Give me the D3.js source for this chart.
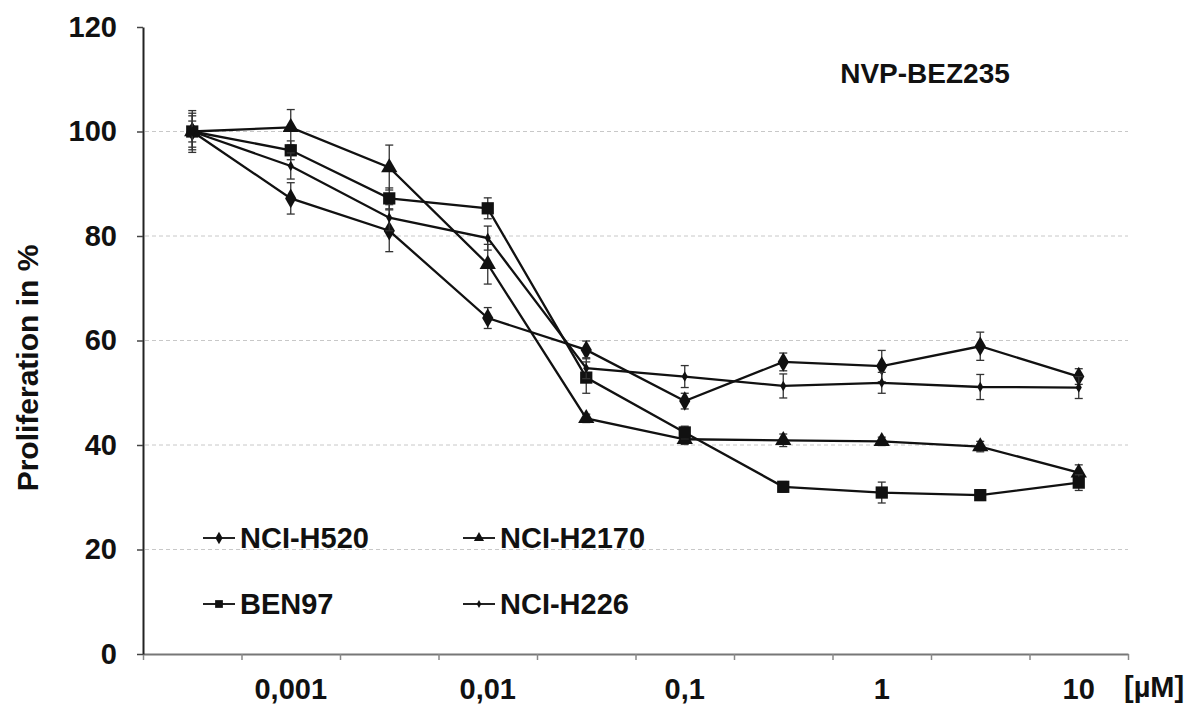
<!DOCTYPE html>
<html lang="en">
<head>
    <meta charset="UTF-8">
    <title>NVP-BEZ235</title>
    <script src="https://d3js.org/d3.v7.min.js"></script>
    <style>
        body, html {
            margin: 0;
            background: white;
            font-family: "Liberation Sans", Arial, sans-serif;
        }
        svg text {
            font-weight: bold;
            fill: #111;
        }
    </style>
</head>
<body>
    <svg id="chart"></svg>
    <script>
        // concentrations (uM), labels only on every other point
        const doses = ["0.0003", "0.001", "0.003", "0.01", "0.03", "0.1", "0.3", "1", "3", "10"];
        const doseLabels = ["", "0,001", "", "0,01", "", "0,1", "", "1", "", "10"];

        const h520 = [100, 87.2, 81.0, 64.3, 58.2, 48.4, 55.9, 55.1, 58.9, 53.1];
        const h520Err = [3.0, 3.0, 4.0, 2.0, 1.7, 1.5, 1.7, 3.0, 2.7, 1.5];
        const h2170 = [100, 100.8, 93.1, 74.6, 45.1, 41.1, 40.9, 40.7, 39.7, 34.7];
        const h2170Err = [4.0, 3.4, 4.3, 3.8, 0.8, 1.0, 1.2, 0.8, 1.0, 1.5];
        const ben97 = [100, 96.4, 87.2, 85.3, 52.9, 42.4, 32.0, 30.9, 30.4, 32.8];
        const ben97Err = [2.0, 1.8, 2.0, 2.0, 3.0, 1.2, 1.0, 2.0, 1.0, 1.5];
        const h226 = [100, 93.4, 83.5, 79.6, 54.7, 53.1, 51.3, 51.9, 51.1, 51.0];
        const h226Err = [3.5, 2.5, 2.5, 2.3, 2.0, 2.1, 2.3, 2.0, 2.4, 2.1];

        const yTicks = [0, 20, 40, 60, 80, 100, 120];

        const series = [
            { name: "NCI-H520", values: h520, err: h520Err, shape: "diamond" },
            { name: "NCI-H2170", values: h2170, err: h2170Err, shape: "triangle" },
            { name: "BEN97", values: ben97, err: ben97Err, shape: "square" },
            { name: "NCI-H226", values: h226, err: h226Err, shape: "dot" }
        ];

        const svgWidth = 1194, svgHeight = 705;
        const margin = { top: 27, right: 66, bottom: 51, left: 143 };
        const fontSize = "29px";

        const svg = d3.select("#chart")
            .attr("width", svgWidth)
            .attr("height", svgHeight);

        const x = d3.scaleBand()
            .domain(doses)
            .range([margin.left, svgWidth - margin.right]);

        const xEdge = d3.scaleLinear()
            .domain([0, doses.length])
            .range([margin.left, svgWidth - margin.right]);

        const y = d3.scaleLinear()
            .domain([0, 120])
            .range([svgHeight - margin.bottom, margin.top]);

        const cx = d => x(d) + x.bandwidth() / 2;

        // gridlines
        svg.append("g")
            .selectAll("line")
            .data(yTicks.filter(t => t > 0 && t < 120))
            .enter().append("line")
            .attr("x1", margin.left + 2)
            .attr("x2", svgWidth - margin.right)
            .attr("y1", d => y(d))
            .attr("y2", d => y(d))
            .attr("stroke", "#c8c8c8")
            .attr("stroke-width", 1)
            .attr("stroke-dasharray", "4,3");

        // x axis
        const xAxis = svg.append("g")
            .attr("transform", `translate(0, ${y(0)})`)
            .call(d3.axisBottom(xEdge).tickValues(d3.range(doses.length + 1)).tickFormat("").tickSize(6).tickSizeOuter(0));
        xAxis.select(".domain").attr("stroke", "#777").attr("stroke-width", 2);
        xAxis.selectAll(".tick line").attr("stroke", "#888").attr("stroke-width", 1.5);

        svg.append("g")
            .selectAll("text")
            .data(doses)
            .enter().append("text")
            .attr("x", d => cx(d))
            .attr("y", 699)
            .attr("text-anchor", "middle")
            .style("font-size", fontSize)
            .text((d, i) => doseLabels[i]);

        svg.append("text")
            .attr("x", 1124)
            .attr("y", 697)
            .style("font-size", fontSize)
            .text("[µM]");

        // y axis
        const yAxis = svg.append("g")
            .attr("transform", `translate(${margin.left}, 0)`)
            .call(d3.axisLeft(y).tickValues(yTicks).tickSize(6).tickPadding(20).tickSizeOuter(0));
        yAxis.select(".domain").attr("stroke", "#222").attr("stroke-width", 2);
        yAxis.selectAll(".tick line").attr("stroke", "#444").attr("stroke-width", 1.5);
        yAxis.selectAll(".tick text")
            .style("font-size", fontSize)
            .style("font-family", "'Liberation Sans', Arial, sans-serif")
            .attr("fill", "#111");

        svg.append("text")
            .attr("transform", "translate(38, 368) rotate(-90)")
            .attr("text-anchor", "middle")
            .style("font-size", "30px")
            .text("Proliferation in %");

        svg.append("text")
            .attr("x", 925)
            .attr("y", 83)
            .attr("text-anchor", "middle")
            .style("font-size", "28px")
            .text("NVP-BEZ235");

        const symbolFor = {
            diamond: d3.symbol().type(d3.symbolDiamond).size(110),
            triangle: d3.symbol().type(d3.symbolTriangle).size(115),
            square: d3.symbol().type(d3.symbolSquare).size(150),
            dot: d3.symbol().type(d3.symbolDiamond).size(32)
        };

        const line = d3.line()
            .x((d, i) => cx(doses[i]))
            .y(d => y(d));

        series.forEach(s => {
            const g = svg.append("g");

            // error bars
            const eb = g.selectAll(".err")
                .data(s.values)
                .enter().append("g");
            eb.append("line")
                .attr("x1", (d, i) => cx(doses[i]))
                .attr("x2", (d, i) => cx(doses[i]))
                .attr("y1", (d, i) => y(d - s.err[i]))
                .attr("y2", (d, i) => y(d + s.err[i]))
                .attr("stroke", "#333")
                .attr("stroke-width", 1.3);
            [-1, 1].forEach(sign => {
                eb.append("line")
                    .attr("x1", (d, i) => cx(doses[i]) - 4)
                    .attr("x2", (d, i) => cx(doses[i]) + 4)
                    .attr("y1", (d, i) => y(d + sign * s.err[i]))
                    .attr("y2", (d, i) => y(d + sign * s.err[i]))
                    .attr("stroke", "#333")
                    .attr("stroke-width", 1.3);
            });

            g.append("path")
                .datum(s.values)
                .attr("fill", "none")
                .attr("stroke", "#111")
                .attr("stroke-width", 2.3)
                .attr("d", line);

            g.selectAll(".mark")
                .data(s.values)
                .enter().append("path")
                .attr("transform", (d, i) => `translate(${cx(doses[i])}, ${y(d)})`)
                .attr("d", symbolFor[s.shape])
                .attr("fill", "#111");
        });

        // legend
        const legendPos = [[203, 538], [463, 538], [203, 604], [463, 604]];
        series.forEach((s, i) => {
            const [lx, ly] = legendPos[i];
            const lg = svg.append("g").attr("transform", `translate(${lx}, ${ly})`);
            lg.append("line")
                .attr("x1", 0).attr("x2", 32)
                .attr("y1", 0).attr("y2", 0)
                .attr("stroke", "#222")
                .attr("stroke-width", 2);
            lg.append("path")
                .attr("transform", "translate(16, 0)")
                .attr("d", d3.symbol().type(s.shape === "triangle" ? d3.symbolTriangle : s.shape === "square" ? d3.symbolSquare : d3.symbolDiamond)
                    .size(s.shape === "dot" ? 18 : s.shape === "square" ? 60 : 45))
                .attr("fill", "#111");
            lg.append("text")
                .attr("x", 37)
                .attr("y", 10)
                .style("font-size", fontSize)
                .text(s.name);
        });
    </script>
</body>
</html>
